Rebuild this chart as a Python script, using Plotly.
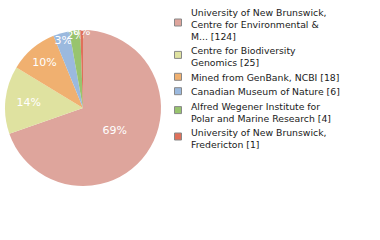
import plotly.graph_objects as go
import math

labels = [
    "University of New Brunswick,<br>Centre for Environmental &<br>M... [124]",
    "Centre for Biodiversity<br>Genomics [25]",
    "Mined from GenBank, NCBI [18]",
    "Canadian Museum of Nature [6]",
    "Alfred Wegener Institute for<br>Polar and Marine Research [4]",
    "University of New Brunswick,<br>Fredericton [1]",
]
values = [124, 25, 18, 6, 4, 1]
colors = ["#dea59c", "#dfe2a0", "#f0b070", "#9bb9de", "#98c46e", "#e0705a"]

W, H = 380, 240
total = sum(values)
pct_text = [f"{math.floor(v * 100 / total)}%" for v in values]

fig = go.Figure(go.Pie(
    labels=labels,
    values=values,
    text=pct_text,
    textinfo="text",
    textposition="inside",
    insidetextorientation="horizontal",
    textfont=dict(color="white", size=11, family="DejaVu Sans"),
    marker=dict(colors=colors, line=dict(width=0)),
    sort=False,
    direction="clockwise",
    rotation=0,
    domain=dict(x=[5 / W, 161 / W], y=[54 / H, 210 / H]),
    hoverinfo="label+value",
    showlegend=False,
))

# custom legend
line_h = 12.0
gap = 2.4
top = 6.0
font_size = 9.3
sq = 7
annotations = []
shapes = []
for lab, col in zip(labels, colors):
    n = lab.count("<br>") + 1
    h = n * line_h
    cy = top + h / 2
    annotations.append(dict(
        x=190 / W, y=1 - top / H, xref="paper", yref="paper",
        xanchor="left", yanchor="top", align="left",
        text=lab, showarrow=False, borderpad=0,
        font=dict(family="DejaVu Sans", size=font_size, color="#1a1a1a"),
    ))
    cys = cy - 1.5 if n > 1 else cy
    shapes.append(dict(
        type="rect", xref="paper", yref="paper",
        x0=174.5 / W, x1=(174.5 + sq) / W,
        y0=1 - (cys - sq / 2) / H, y1=1 - (cys + sq / 2) / H,
        fillcolor=col, line=dict(color="#888888", width=1),
    ))
    top += h + gap

fig.update_layout(
    width=W, height=H,
    margin=dict(l=0, r=0, t=0, b=0),
    paper_bgcolor="white",
    plot_bgcolor="white",
    uniformtext=dict(minsize=11, mode="show"),
    annotations=annotations,
    shapes=shapes,
)

fig.write_html("out.html")
